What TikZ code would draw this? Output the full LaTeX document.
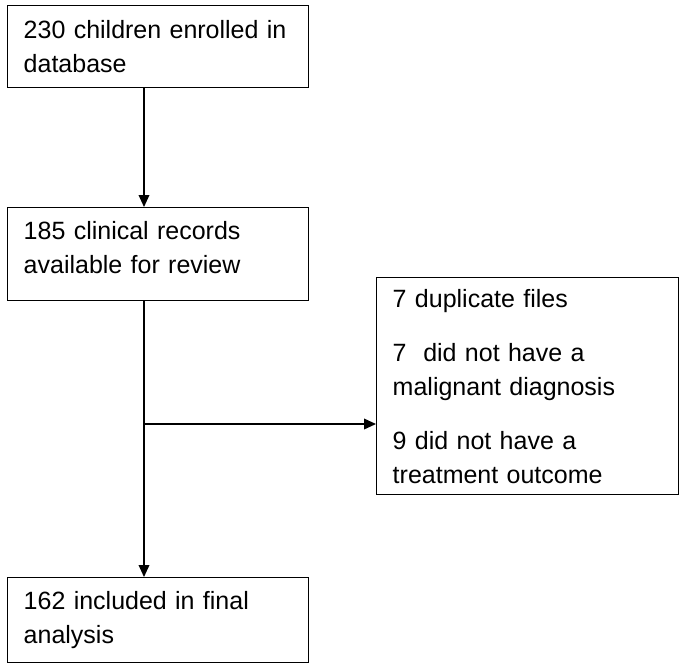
\documentclass[tikz,border=0pt]{standalone}
\usepackage{fontspec}
\setmainfont{Liberation Sans}
\usetikzlibrary{arrows.meta}
\begin{document}
\begin{tikzpicture}[x=0.75pt,y=0.75pt,
    flowbox/.style={draw,line width=1.1pt,anchor=north west,align=left,inner xsep=12pt,
        font=\fontsize{18.75}{25.5}\selectfont},
    flowarrow/.style={line width=1.1pt,-{Triangle[length=9pt,width=8pt]}}]
                \useasboundingbox (0,0) rectangle (685,-669);
                \node[flowbox,text width=201.75pt,minimum width=225.75pt,minimum height=61.5pt] (enrolled) at (7,-5) {230 children enrolled in\\database};
                \node[flowbox,text width=201.75pt,minimum width=225.75pt,minimum height=69.75pt] (records) at (7,-207) {185 clinical records\\available for review\rule[-10.5pt]{0pt}{0pt}};
                \node[flowbox,text width=202.5pt,minimum width=226.5pt,minimum height=162.75pt] (excluded) at (376,-277) {7 duplicate files\\[15pt]7\ \ did not have a\\malignant diagnosis\\[15pt]9 did not have a\\treatment outcome};
                \node[flowbox,text width=201.75pt,minimum width=225.75pt,minimum height=63.75pt] (final) at (7,-577) {162 included in final\\analysis};
                \coordinate (split) at (144,-424);
                \draw[flowarrow] (enrolled.south -| split) -- (records.north -| split);
                \draw[flowarrow] (records.south -| split) -- (final.north -| split);
                \draw[flowarrow] (split) -- (split -| excluded.west);
            \end{tikzpicture}
\end{document}
